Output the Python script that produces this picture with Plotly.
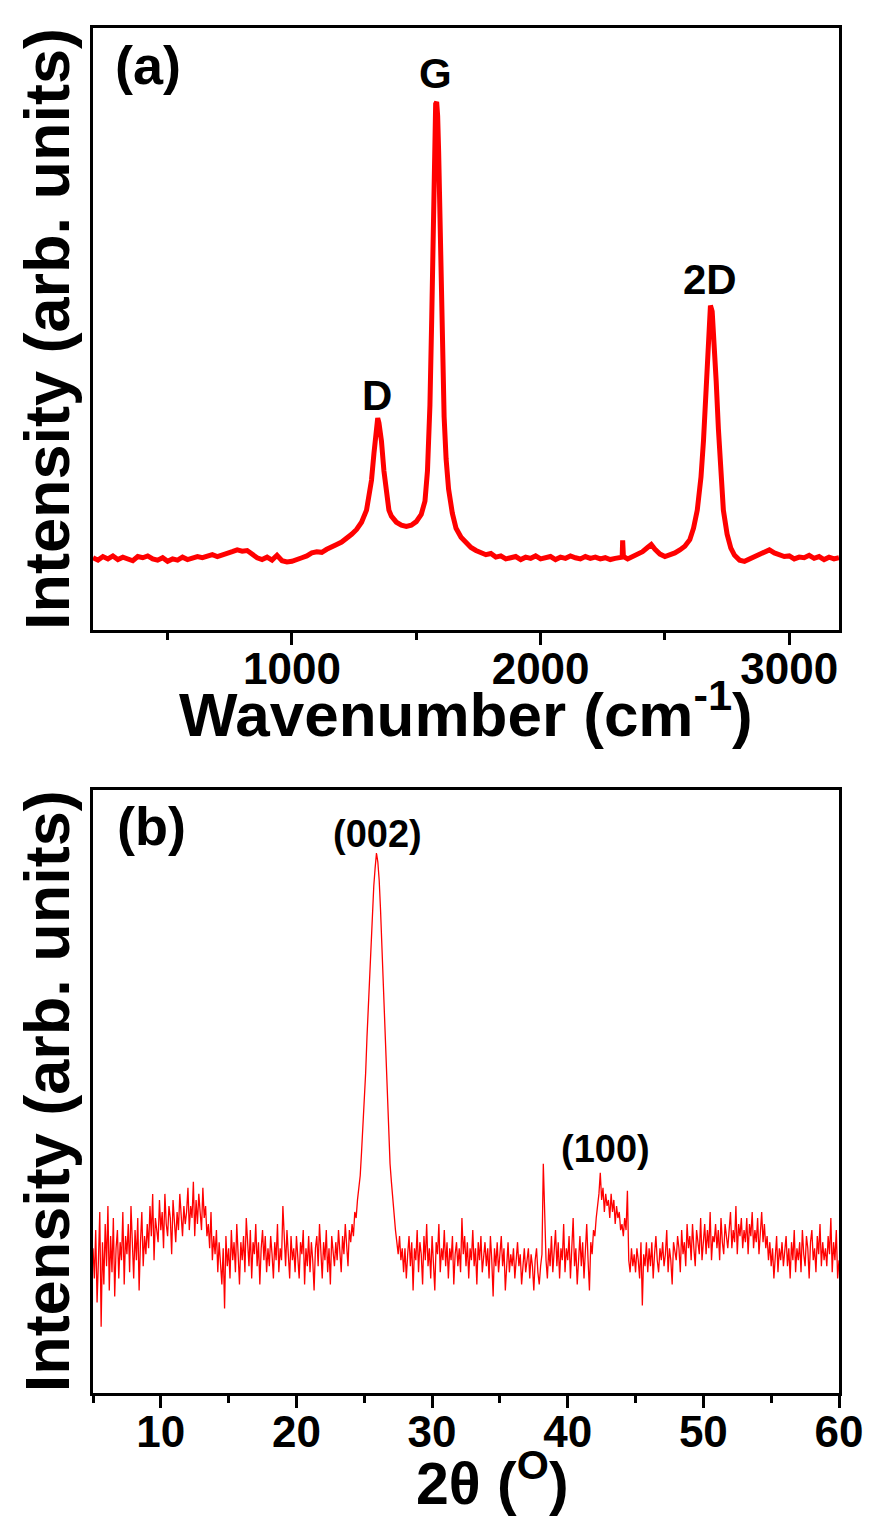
import numpy as np
import plotly.graph_objects as go

# ---------------- Raman data (panel a) ----------------
raman_wavenumber = [
    200, 220, 240, 260, 280, 300, 320, 340, 360, 380, 400, 420, 440, 460, 480,
    500, 520, 540, 560, 580, 600, 620, 640, 660, 680, 700, 720, 740, 760, 780,
    800, 820, 840, 860, 880, 900, 920, 940, 960, 980, 1000, 1020, 1040, 1060,
    1080, 1100, 1120, 1140, 1160, 1180, 1200, 1220, 1240, 1260, 1280, 1300,
    1310, 1320, 1330, 1340, 1345, 1350, 1360, 1370, 1380, 1390, 1400, 1420,
    1440, 1460, 1480, 1500, 1520, 1535, 1545, 1555, 1562, 1568, 1574, 1578,
    1582, 1586, 1590, 1595, 1600, 1606, 1612, 1620, 1630, 1645, 1660, 1680,
    1700, 1720, 1740, 1760, 1780, 1800, 1820, 1840, 1860, 1880, 1900, 1920,
    1940, 1960, 1980, 2000, 2020, 2040, 2060, 2080, 2100, 2120, 2140, 2160,
    2180, 2200, 2220, 2240, 2260, 2280, 2300, 2320, 2328, 2330, 2333, 2350,
    2370, 2390, 2410, 2430, 2445, 2460, 2480, 2500, 2520, 2540, 2560, 2580,
    2600, 2615, 2630, 2645, 2655, 2665, 2675, 2683, 2690, 2698, 2706, 2715,
    2725, 2735, 2750, 2765, 2780, 2800, 2820, 2840, 2860, 2880, 2900, 2920,
    2940, 2960, 2980, 3000, 3020, 3040, 3060, 3080, 3100, 3120, 3140, 3160,
    3180, 3200,
]
raman_intensity = [
    12.6, 12.2, 12.8, 12.4, 12.9, 12.3, 12.7, 12.5, 12.1, 12.8, 12.6, 12.9, 12.4, 12.2, 12.6,
    12.0, 12.4, 12.2, 12.7, 12.3, 12.5, 12.8, 12.6, 12.9, 13.1, 12.8, 13.0, 13.3, 13.6, 13.9,
    13.7, 13.8, 13.2, 12.6, 12.3, 12.7, 12.2, 13.0, 12.1, 11.9, 12.0, 12.4, 12.6, 12.9,
    13.4, 13.6, 13.5, 14.0, 14.3, 14.8, 15.2, 15.8, 16.5, 17.3, 18.5, 20.5,
    22.5, 25.5, 30.0, 34.5, 35.8, 35.0, 32.0, 27.0, 23.0, 20.5, 19.5, 18.5,
    18.0, 17.8, 18.0, 18.6, 19.8, 22.0, 27.0, 38.0, 52.0, 68.0, 82.0, 88.0,
    88.3, 86.0, 80.0, 70.0, 58.0, 45.0, 36.0, 29.0, 24.0, 20.0, 17.5, 16.0,
    15.2, 14.3, 13.8, 13.5, 13.1, 13.3, 12.7, 12.9, 12.4, 12.6, 12.8, 12.3,
    12.7, 12.5, 12.9, 12.4, 12.6, 12.8, 12.3, 12.7, 12.5, 12.9, 12.6, 12.4,
    12.8, 12.5, 12.7, 12.4, 12.6, 12.3, 12.5, 12.6, 12.7, 15.5, 12.8, 12.4,
    12.8, 13.2, 13.6, 14.3, 14.8, 14.0, 13.2, 12.8, 13.0, 13.4, 13.9, 14.5,
    15.6, 17.5, 20.5, 26.0, 32.0, 41.0, 49.0, 54.5, 53.5, 49.0, 42.0, 34.0,
    26.0, 20.5, 16.5, 14.2, 13.0, 12.2, 12.0, 12.4, 12.6, 13.0, 13.6, 13.9,
    13.4, 13.1, 12.8, 12.9, 12.4, 12.7, 12.6, 13.0, 12.5, 12.8, 12.3, 12.7,
    12.4, 12.6,
]

# ---------------- XRD data (panel b) ----------------
xrd_start = 5.0      # first 2-theta sample (deg)
xrd_step = 0.1       # sampling step (deg)
xrd_intensity = [
    24, 19, 27, 15, 22, 30, 11, 25, 18, 28,   # 5
    21, 31, 17, 26, 20, 29, 16, 24, 27, 19,   # 6
    25, 22, 30, 18, 26, 23, 28, 20, 31, 24,   # 7
    19, 27, 22, 29, 17, 25, 30, 21, 26, 23,   # 8
    28, 24, 31, 26, 33, 22, 29, 27, 25, 32,   # 9
    27, 30, 24, 33, 28, 26, 31, 29, 23, 32,   # 10
    28, 25, 30, 27, 33, 29, 26, 31, 28, 30,   # 11
    34, 27, 31, 29, 35, 26, 32, 28, 33, 30,   # 12
    27, 34, 29, 31, 26, 28, 24, 30, 22, 26,   # 13
    23, 27, 20, 25, 22, 18, 24, 14, 26, 21,   # 14
    24, 19, 27, 22, 25, 20, 28, 23, 18, 25,   # 15
    22, 26, 20, 29, 24, 21, 27, 19, 25, 23,   # 16
    28, 21, 25, 18, 24, 27, 22, 26, 20, 24,   # 17
    21, 26, 23, 19, 25, 22, 28, 20, 24, 22,   # 18
    31, 25, 21, 27, 23, 19, 26, 22, 24, 20,   # 19
    26, 22, 19, 25, 23, 27, 18, 24, 21, 26,   # 20
    20, 25, 22, 17, 24, 26, 21, 28, 23, 19,   # 21
    25, 22, 27, 20, 24, 18, 26, 23, 21, 25,   # 22
    22, 27, 24, 20, 26, 23, 28, 25, 21, 27,   # 23
    25, 28, 26, 30, 29, 32, 34, 36, 40, 44,   # 24
    48, 53, 59, 64, 70, 75, 80, 84, 87, 89.5, # 25
    88, 85, 80, 74, 68, 62, 55, 48, 42, 38,   # 26
    35, 32, 29, 27, 25, 23, 26, 22, 24, 20,   # 27
    24, 19, 23, 26, 21, 25, 17, 24, 22, 27,   # 28
    20, 25, 23, 18, 26, 22, 28, 21, 24, 19,   # 29
    26, 22, 17, 25, 23, 28, 20, 24, 22, 27,   # 30
    21, 25, 19, 24, 22, 26, 18, 23, 25, 21,   # 31
    24, 20, 29, 23, 26, 21, 25, 19, 24, 22,   # 32
    27, 21, 24, 18, 25, 22, 26, 20, 23, 25,   # 33
    21, 24, 19, 26, 22, 16, 24, 21, 25, 20,   # 34
    23, 26, 21, 24, 17, 22, 25, 20, 23, 21,   # 35
    24, 19, 22, 25, 21, 23, 18, 22, 24, 20,   # 36
    22, 24, 19, 23, 21, 17, 22, 24, 20, 18,   # 37
    21, 23, 38, 30, 22, 19, 24, 21, 26, 20,   # 38
    23, 27, 21, 25, 19, 24, 22, 28, 20, 24,   # 39
    22, 26, 19, 25, 29, 21, 24, 18, 23, 26,   # 40
    21, 25, 19, 24, 28, 22, 17, 25, 23, 27,   # 41
    26, 29, 31, 33, 36.5, 32, 34, 30, 33, 31, # 42
    32, 29, 33, 30, 32, 28, 31, 29, 30, 27,   # 43
    28, 26, 29, 27, 33.5, 22, 20, 24, 21, 23, # 44
    20, 24, 22, 19, 25, 14.5, 23, 21, 25, 20, # 45
    24, 21, 25, 19, 23, 26, 22, 20, 24, 22,   # 46
    25, 21, 23, 27, 20, 24, 22, 18, 25, 23,   # 47
    22, 26, 24, 20, 27, 23, 25, 21, 28, 24,   # 48
    26, 22, 28, 24, 21, 27, 25, 23, 29, 22,   # 49
    25, 28, 23, 27, 24, 30, 22, 26, 25, 28,   # 50
    24, 27, 22, 29, 25, 23, 28, 26, 24, 27,   # 51
    30, 24, 27, 25, 31, 23, 28, 26, 29, 24,   # 52
    27, 25, 29, 23, 28, 26, 30, 24, 27, 25,   # 53
    29, 23, 27, 30, 25, 28, 24, 26, 22, 25,   # 54
    21, 24, 19, 23, 26, 20, 24, 22, 25, 21,   # 55
    23, 26, 21, 24, 19, 25, 22, 27, 20, 24,   # 56
    22, 25, 20, 27, 23, 21, 26, 24, 19, 25,   # 57
    27, 22, 24, 20, 26, 23, 28, 21, 25, 22,   # 58
    24, 21, 26, 23, 29, 20, 25, 22, 27, 19,   # 59
    22,                                       # 60
]
xrd_two_theta = np.round(xrd_start + xrd_step * np.arange(len(xrd_intensity)), 2)

# ---------------- labels ----------------
raman_ticks = [1000, 2000, 3000]
raman_minor = [500, 1500, 2500]
xrd_ticks = [10, 20, 30, 40, 50, 60]
xrd_minor = [5, 15, 25, 35, 45, 55]
raman_peaks = [("D", 1343, 39.5), ("G", 1576, 93.0), ("2D", 2683, 58.8)]
xrd_peaks = [("(002)", 26.0, 92.7), ("(100)", 42.8, 40.5)]
raman_xtitle = "Wavenumber (cm<sup>-1</sup>)"
xrd_xtitle = "2θ (<sup>O</sup>)"
ytitle = "Intensity (arb. units)"

FONT = "Liberation Sans, Arial, sans-serif"
RED = "#ff0000"

fig = go.Figure()
fig.add_trace(go.Scatter(x=raman_wavenumber, y=raman_intensity, mode="lines",
                         line=dict(color=RED, width=5), xaxis="x", yaxis="y",
                         showlegend=False))
fig.add_trace(go.Scatter(x=xrd_two_theta, y=xrd_intensity, mode="lines",
                         line=dict(color=RED, width=1.3), xaxis="x2", yaxis="y2",
                         showlegend=False))

axis_common = dict(showline=True, linecolor="black", linewidth=3, mirror=True,
                   showgrid=False, zeroline=False)
tickfont = dict(family=FONT, size=44, color="black", weight="bold")
xtitlefont = dict(family=FONT, size=62, color="black", weight="bold")
ytitlefont = dict(family=FONT, size=63, color="black", weight="bold")

fig.update_layout(
    width=884, height=1537,
    margin=dict(l=93, r=45, t=28, b=144),
    paper_bgcolor="white", plot_bgcolor="white",
    xaxis=dict(**axis_common, domain=[0, 1], anchor="y", range=[200, 3200],
               tickvals=raman_ticks, ticks="outside", ticklen=12, tickwidth=2.5,
               tickcolor="black", tickfont=tickfont, ticklabelstandoff=-14,
               minor=dict(tickvals=raman_minor, ticks="outside", ticklen=7,
                          tickwidth=2.5, tickcolor="black")),
    yaxis=dict(**axis_common, domain=[0.559, 1], anchor="x", range=[0.6, 100.6],
               showticklabels=False, ticks="",
               title=dict(text=ytitle, font=ytitlefont, standoff=0)),
    xaxis2=dict(**axis_common, domain=[0, 1], anchor="y2", range=[5, 60],
                tickvals=xrd_ticks, ticks="outside", ticklen=12, tickwidth=2.5,
                tickcolor="black", tickfont=tickfont, ticklabelstandoff=-14,
                minor=dict(tickvals=xrd_minor, ticks="outside", ticklen=7,
                           tickwidth=2.5, tickcolor="black")),
    yaxis2=dict(**axis_common, domain=[0, 0.442], anchor="x2", range=[0, 100],
                showticklabels=False, ticks="",
                title=dict(text=ytitle, font=ytitlefont, standoff=0)),
)

# x-axis titles placed just below the tick labels
fig.add_annotation(x=0.5, y=0, xref="x domain", yref="y domain", text=raman_xtitle,
                   showarrow=False, xanchor="center", yanchor="middle", yshift=-80,
                   font=xtitlefont)
fig.add_annotation(x=0.535, y=0, xref="x2 domain", yref="y2 domain", text=xrd_xtitle,
                   showarrow=False, xanchor="center", yanchor="middle", yshift=-86,
                   font=dict(family=FONT, size=59, color="black", weight="bold"))

fig.add_annotation(x=280, y=94.5, xref="x", yref="y", text="(a)", showarrow=False,
                   xanchor="left", yanchor="middle",
                   font=dict(family=FONT, size=54, color="black", weight="bold"))
for label, xv, yv in raman_peaks:
    fig.add_annotation(x=xv, y=yv, xref="x", yref="y", text=label, showarrow=False,
                       xanchor="center", yanchor="middle",
                       font=dict(family=FONT, size=42, color="black", weight="bold"))
fig.add_annotation(x=9.3, y=94, xref="x2", yref="y2", text="(b)", showarrow=False,
                   xanchor="center", yanchor="middle",
                   font=dict(family=FONT, size=54, color="black", weight="bold"))
for label, xv, yv in xrd_peaks:
    fig.add_annotation(x=xv, y=yv, xref="x2", yref="y2", text=label, showarrow=False,
                       xanchor="center", yanchor="middle",
                       font=dict(family=FONT, size=38, color="black", weight="bold"))

fig.write_html("out.html", config={"displayModeBar": False},
               post_script="document.body.style.margin='0';")
